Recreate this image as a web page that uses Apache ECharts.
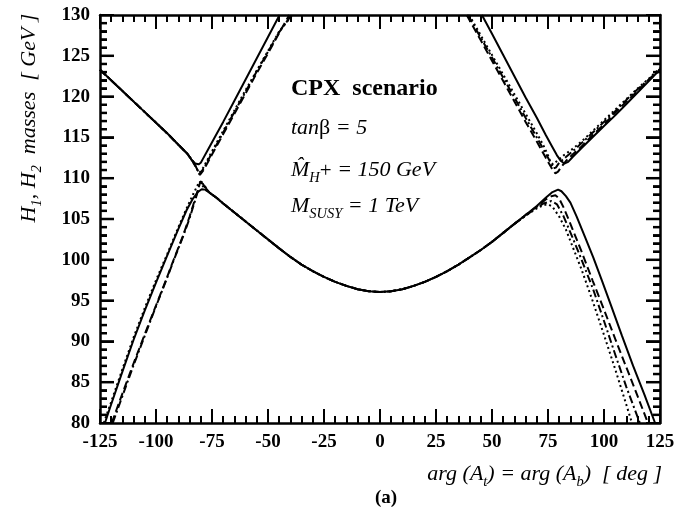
<!DOCTYPE html>
<html>
<head>
<meta charset="utf-8">
<script src="https://cdn.jsdelivr.net/npm/echarts@6/dist/echarts.min.js"></script>
<style>
  html, body { margin: 0; padding: 0; background: #fff; }
  #main { width: 681px; height: 511px; }
</style>
</head>
<body>
<div id="main"></div>
<script>
// axis ticks
var xTicks = [-125, -100, -75, -50, -25, 0, 25, 50, 75, 100, 125];
var yTicks = [80, 85, 90, 95, 100, 105, 110, 115, 120, 125, 130];

// solid curve: H2 left part, H2 right part, H1
var solidUpperLeft = [[-125,123.3],[-115,120.7],[-105,118.1],[-95,115.5],[-90,114.1],[-86,113.0],[-84,112.2],[-82.5,111.8],[-81,111.7],[-80,111.9],[-79,112.4],[-77,113.4],[-74,114.9],[-70,116.9],[-65,119.5],[-60,122.1],[-55,124.7],[-50,127.3],[-45,129.9],[-44.8,130]];
var solidUpperRight = [[45.5,130],[50,127.7],[55,125.1],[60,122.5],[65,119.9],[70,117.4],[74,115.3],[77,113.8],[79,112.8],[80.8,112.1],[82.3,111.8],[84,112.0],[86,112.6],[90,113.7],[95,115.05],[100,116.4],[105,117.7],[110,119.1],[115,120.5],[120,121.9],[125,123.3]];
var solidLower = [[-122.8,80],[-120,82.3],[-115,86.3],[-110,90.2],[-105,93.8],[-100,97.2],[-95.2,100.4],[-90,103.8],[-86.3,106.1],[-83.5,107.5],[-81.3,108.3],[-79.6,108.65],[-78,108.6],[-76,108.2],[-73,107.6],[-70,106.9],[-65,105.8],[-60,104.7],[-55,103.6],[-50,102.5],[-45,101.4],[-40,100.35],[-35,99.4],[-30,98.6],[-25,97.9],[-20,97.3],[-15,96.8],[-10,96.4],[-5,96.15],[0,96.05],[5,96.15],[10,96.4],[15,96.8],[20,97.3],[25,97.9],[30,98.6],[35,99.4],[40,100.3],[45,101.2],[50,102.2],[55,103.3],[60,104.4],[65,105.5],[70,106.6],[74,107.6],[77,108.3],[79.5,108.6],[81,108.4],[83,107.8],[85,107.0],[87.8,105.3],[91.5,102.8],[95.2,100.3],[99,97.5],[103,94.5],[108,90.7],[113,87.0],[118,83.5],[122.8,80]];

// dashed curve
var dashUpperLeft = [[-125,123.3],[-115,120.7],[-105,118.1],[-95,115.5],[-90,114.1],[-86,113.0],[-83.5,112.0],[-82,111.3],[-81,110.7],[-80.4,110.4],[-79.7,110.5],[-78.5,111.1],[-75,112.9],[-70,115.4],[-65,117.9],[-60,120.4],[-55,122.9],[-50,125.3],[-45,127.8],[-40.5,130]];
var dashUpperRight = [[38.7,130],[45,126.9],[50,124.4],[55,121.9],[60,119.4],[65,116.9],[70,114.5],[74,112.5],[76.5,111.3],[78.3,110.6],[79.5,110.8],[81,111.4],[83,112.1],[86,112.9],[90,113.9],[95,115.3],[100,116.6],[105,118.0],[110,119.4],[115,120.7],[120,122.0],[125,123.3]];
var dashLower = [[-119.8,80],[-115,83.6],[-110,87.3],[-105,90.9],[-100,94.4],[-95,97.9],[-92,100.1],[-88,102.9],[-85,105.3],[-82.5,107.5],[-81,108.8],[-80.2,109.6],[-79.5,109.8],[-78.8,109.4],[-77.5,108.7],[-76,108.2],[-73,107.6],[-70,106.9],[-65,105.8],[-60,104.7],[-55,103.6],[-50,102.5],[-45,101.4],[-40,100.35],[-35,99.4],[-30,98.6],[-25,97.9],[-20,97.3],[-15,96.8],[-10,96.4],[-5,96.15],[0,96.05],[5,96.15],[10,96.4],[15,96.8],[20,97.3],[25,97.9],[30,98.6],[35,99.4],[40,100.3],[45,101.2],[50,102.2],[55,103.3],[60,104.4],[65,105.5],[70,106.5],[74,107.4],[76.5,107.8],[78.3,107.9],[80,107.5],[82,106.4],[85,104.4],[90,101.0],[95,97.4],[100,93.9],[105,90.3],[110,86.8],[115,83.3],[119.6,80]];

// dash-dot curve
var dashDotUpperLeft = [[-125,123.3],[-115,120.7],[-105,118.1],[-95,115.5],[-90,114.1],[-86,113.0],[-83.5,112.0],[-82,111.3],[-81.1,110.8],[-80.6,110.5],[-79.9,110.6],[-78.7,111.2],[-75,113.1],[-70,115.6],[-65,118.1],[-60,120.6],[-55,123.1],[-50,125.5],[-45,127.9],[-39.5,130]];
var dashDotUpperRight = [[39.3,130],[45,127.2],[50,124.8],[55,122.3],[60,119.9],[65,117.4],[70,115.0],[74,113.0],[76,112.0],[77.3,111.2],[78.5,111.3],[80,111.9],[83,112.6],[86,113.3],[90,114.3],[95,115.6],[100,116.9],[105,118.2],[110,119.6],[115,120.9],[120,122.1],[125,123.4]];
var dashDotLower = [[-119.3,80],[-115,83.3],[-110,87.1],[-105,90.7],[-100,94.3],[-95,97.8],[-92,100.0],[-88,102.8],[-85,105.1],[-82.5,107.3],[-81.2,108.6],[-80.4,109.5],[-79.7,109.7],[-79,109.3],[-77.5,108.6],[-76,108.2],[-73,107.6],[-70,106.9],[-65,105.8],[-60,104.7],[-55,103.6],[-50,102.5],[-45,101.4],[-40,100.35],[-35,99.4],[-30,98.6],[-25,97.9],[-20,97.3],[-15,96.8],[-10,96.4],[-5,96.15],[0,96.05],[5,96.15],[10,96.4],[15,96.8],[20,97.3],[25,97.9],[30,98.6],[35,99.4],[40,100.3],[45,101.2],[50,102.2],[55,103.3],[60,104.4],[65,105.4],[70,106.4],[73,106.9],[76.5,107.2],[79,106.8],[82,105.3],[86,102.7],[90,100.0],[95,96.5],[100,92.5],[105,88.4],[110,84.4],[116,80]];

// dotted curve
var dotUpperLeft = [[-125,123.3],[-115,120.7],[-105,118.1],[-95,115.5],[-90,114.1],[-86,113.0],[-83.5,112.1],[-82.2,111.4],[-81.3,110.9],[-80.8,110.6],[-80.1,110.7],[-78.9,111.3],[-75,113.3],[-70,115.8],[-65,118.3],[-60,120.8],[-55,123.2],[-50,125.6],[-45,128.0],[-39,130]];
var dotUpperRight = [[39.8,130],[45,127.5],[50,125.1],[55,122.7],[60,120.3],[65,117.9],[70,115.5],[73,114.0],[75,112.8],[76.2,111.9],[77.3,111.7],[79,112.1],[82,112.8],[86,113.6],[90,114.5],[95,115.8],[100,117.1],[105,118.4],[110,119.7],[115,121.0],[120,122.2],[125,123.5]];
var dotLower = [[-123.3,80],[-120,82.6],[-115,86.6],[-110,90.5],[-105,94.1],[-100,97.5],[-95,100.7],[-90,104.0],[-86.5,106.2],[-83.5,108.0],[-81.5,109.1],[-80.6,109.6],[-79.9,109.5],[-79,109.0],[-77.5,108.5],[-76,108.2],[-73,107.6],[-70,106.9],[-65,105.8],[-60,104.7],[-55,103.6],[-50,102.5],[-45,101.4],[-40,100.35],[-35,99.4],[-30,98.6],[-25,97.9],[-20,97.3],[-15,96.8],[-10,96.4],[-5,96.15],[0,96.05],[5,96.15],[10,96.4],[15,96.8],[20,97.3],[25,97.9],[30,98.6],[35,99.4],[40,100.3],[45,101.2],[50,102.2],[55,103.3],[60,104.4],[65,105.4],[70,106.3],[73,106.7],[75,106.8],[77,106.5],[80,105.3],[83,103.7],[86,101.6],[90,98.8],[95,94.9],[100,90.8],[105,86.6],[110,82.2],[112.5,80]];

var serif = 'Liberation Serif';
var xMin = xTicks[0], xMax = xTicks[xTicks.length - 1];

// y tick positions: every 1 GeV, long ones on the labelled values
var yTickMarks = [];
for (var g = yTicks[0] + 1; g < yTicks[yTicks.length - 1]; g++) {
  yTickMarks.push([xMin, g, yTicks.indexOf(g) >= 0 ? 14 : 7]);
}

function mkAxis(pos, showLabel, isX) {
  return {
    type: 'value',
    position: pos,
    min: isX ? xMin : yTicks[0],
    max: isX ? xMax : yTicks[yTicks.length - 1],
    interval: isX ? 25 : 5,
    axisLine: { show: true, onZero: false, lineStyle: { color: '#000', width: 2.5 } },
    axisTick: { show: true, inside: true, length: 14, lineStyle: { color: '#000', width: 2 } },
    minorTick: { show: true, splitNumber: 5, length: 7, lineStyle: { color: '#000', width: 2 } },
    splitLine: { show: false },
    axisLabel: {
      show: showLabel, color: '#000', fontFamily: serif, fontWeight: 'bold',
      fontSize: 19, margin: 10
    }
  };
}

function curve(data, type) {
  return {
    type: 'line',
    data: data,
    showSymbol: false,
    symbol: 'none',
    silent: true,
    animation: false,
    lineStyle: { color: '#000', width: 2, type: type }
  };
}

// inward y ticks on both borders, on their own layer
var yTickSeries = {
  type: 'custom',
  coordinateSystem: 'cartesian2d',
  data: yTickMarks,
  silent: true,
  clip: false,
  animation: false,
  zlevel: 1,
  z: 10,
  renderItem: function (params, api) {
    var len = api.value(2);
    var l = api.coord([xMin, api.value(1)]);
    var r = api.coord([xMax, api.value(1)]);
    return {
      type: 'group',
      children: [
        { type: 'rect', shape: { x: l[0], y: l[1] - 1.25, width: len, height: 2.5 }, style: { fill: '#000' } },
        { type: 'rect', shape: { x: r[0] - len, y: r[1] - 1.25, width: len, height: 2.5 }, style: { fill: '#000' } }
      ]
    };
  }
};

var dashed = [8, 4];
var dashDot = [8, 3, 2, 3];
var dotted = [2, 3];

var chart = echarts.init(document.getElementById('main'));
var it = { fontFamily: serif, fontStyle: 'italic', fontSize: 22, lineHeight: 24, verticalAlign: 'top', fill: '#000' };
var sub = { fontFamily: serif, fontStyle: 'italic', fontSize: 14.5, lineHeight: 14, padding: [12, 0, 0, 0], verticalAlign: 'top', fill: '#000' };
var up = { fontFamily: serif, fontStyle: 'normal', fontSize: 22, lineHeight: 24, verticalAlign: 'top', fill: '#000' };
var sup = { fontFamily: serif, fontStyle: 'normal', fontSize: 21, lineHeight: 24, padding: [2, 0, 0, 0], verticalAlign: 'top', fill: '#000' };

chart.setOption({
  backgroundColor: '#fff',
  animation: false,
  grid: { left: 100, right: 21, top: 15, bottom: 88, containLabel: false },
  xAxis: [mkAxis('bottom', true, true), mkAxis('top', false, true)],
  yAxis: [mkAxis('left', true, false), mkAxis('right', false, false)],
  series: [
    curve(solidUpperLeft, 'solid'), curve(solidUpperRight, 'solid'), curve(solidLower, 'solid'),
    curve(dashUpperLeft, dashed), curve(dashUpperRight, dashed), curve(dashLower, dashed),
    curve(dashDotUpperLeft, dashDot), curve(dashDotUpperRight, dashDot), curve(dashDotLower, dashDot),
    curve(dotUpperLeft, dotted), curve(dotUpperRight, dotted), curve(dotLower, dotted),
    yTickSeries
  ],
  graphic: [
    { type: 'text', x: 291, y: 89, style: { text: 'CPX  scenario', fontFamily: serif, fontWeight: 'bold', fontSize: 24, fill: '#000', align: 'left', verticalAlign: 'middle' } },
    { type: 'text', x: 291, y: 129, style: { text: '{i|tan}{u|β}{i| = 5}', rich: { i: it, u: up }, align: 'left', verticalAlign: 'middle' } },
    { type: 'text', x: 291, y: 171, style: { text: '{i|M\u0302}{s|H}{p|+}{i| = 150 GeV}', rich: { i: it, s: sub, p: sup }, align: 'left', verticalAlign: 'middle' } },
    { type: 'text', x: 291, y: 207, style: { text: '{i|M}{s|SUSY}{i| = 1 TeV}', rich: { i: it, s: sub }, align: 'left', verticalAlign: 'middle' } },
    { type: 'text', x: 30, y: 118, rotation: Math.PI / 2, style: { text: '{i|H}{s|1}{i|, H}{s|2}{i|  masses  [ GeV ]}', rich: { i: it, s: sub }, align: 'center', verticalAlign: 'middle' } },
    { type: 'text', x: 662, y: 475, style: { text: '{i|arg (A}{s|t}{i|) = arg (A}{s|b}{i|)  [ deg ]}', rich: { i: it, s: sub }, align: 'right', verticalAlign: 'middle' } },
    { type: 'text', x: 386, y: 498, style: { text: '(a)', fontFamily: serif, fontWeight: 'bold', fontSize: 19, fill: '#000', align: 'center', verticalAlign: 'middle' } }
  ]
});
</script>
</body>
</html>
